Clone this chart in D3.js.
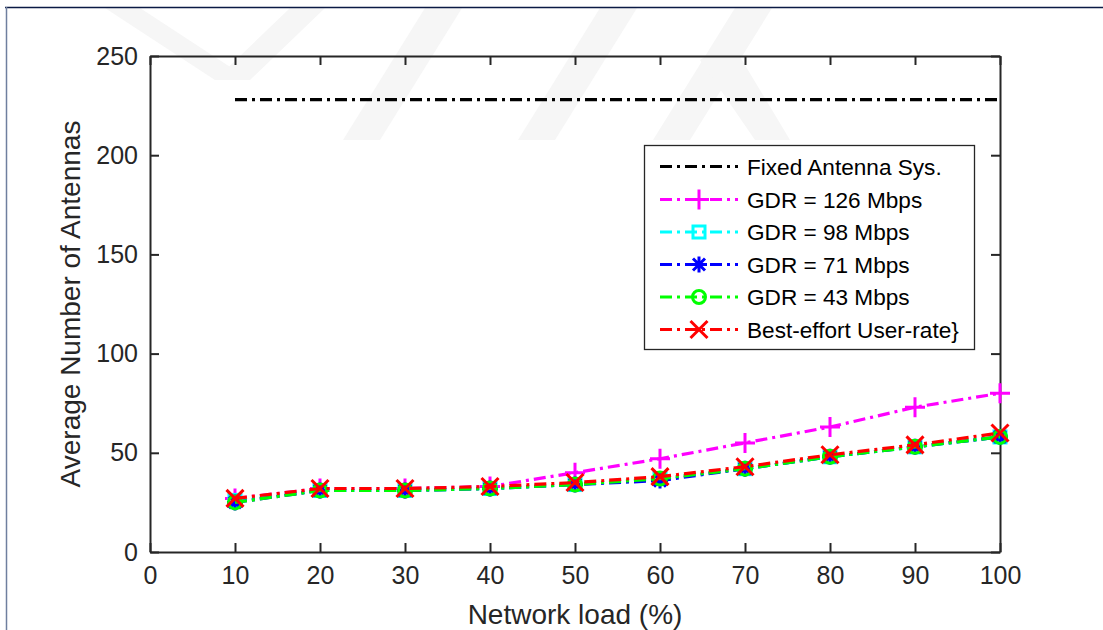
<!DOCTYPE html>
<html><head><meta charset="utf-8">
<script src="https://cdn.jsdelivr.net/npm/d3@7"></script>
<style>body{margin:0;background:#fff}svg{display:block}</style>
</head><body>
<svg id="c" width="1103" height="630"></svg>
<script>
// ---- data ----
const loads = [10, 20, 30, 40, 50, 60, 70, 80, 90, 100];
const fixedSys = [228, 228, 228, 228, 228, 228, 228, 228, 228, 228];
const gdr126 = [27, 32, 32, 33, 40, 47, 55, 63, 73, 80];
const gdr98  = [26, 31, 31, 32, 34, 37, 42, 48, 53, 58];
const gdr71  = [25, 31, 31, 32, 34, 36, 42, 48, 53, 58];
const gdr43  = [25, 31, 31, 32, 34, 37, 42, 48, 53, 58];
const bestEffort = [27, 32, 32, 33, 35, 38, 43, 49, 54, 60];
const xTicks = [0, 10, 20, 30, 40, 50, 60, 70, 80, 90, 100];
const yTicks = [0, 50, 100, 150, 200, 250];
const seriesNames = ["Fixed Antenna Sys.", "GDR = 126 Mbps", "GDR = 98 Mbps", "GDR = 71 Mbps", "GDR = 43 Mbps", "Best-effort User-rate}"];

const series = [
  {name: seriesNames[0], values: fixedSys, color: "#000000", marker: null},
  {name: seriesNames[1], values: gdr126, color: "#ff00ff", marker: "plus"},
  {name: seriesNames[2], values: gdr98, color: "#00ffff", marker: "square"},
  {name: seriesNames[3], values: gdr71, color: "#0000ff", marker: "star"},
  {name: seriesNames[4], values: gdr43, color: "#00ff00", marker: "circle"},
  {name: seriesNames[5], values: bestEffort, color: "#ff0000", marker: "x"}
];

const svg = d3.select("#c");
const FONT = "'Liberation Sans', Arial, sans-serif";
const AX = "#262626";

// ---- faint watermark + page frame ----
const wm = svg.append("g").attr("fill", "#f6f6f6");
const wmPolys = [
  [[105,8],[140,8],[250,80],[215,80]],
  [[290,8],[325,8],[250,80],[215,80]],
  [[425,8],[462,8],[380,140],[343,140]],
  [[600,8],[637,8],[555,140],[518,140]],
  [[735,8],[772,8],[690,140],[653,140]],
  [[700,60],[730,40],[790,140],[755,140]]
];
wmPolys.forEach(p => wm.append("path").attr("d", "M" + p.map(q => q.join(",")).join("L") + "Z"));
svg.append("line").attr("x1", 5).attr("x2", 1103).attr("y1", 7.5).attr("y2", 7.5).attr("stroke", "#0b1a44").attr("stroke-width", 1.5);
svg.append("line").attr("x1", 6.5).attr("x2", 6.5).attr("y1", 7).attr("y2", 630).attr("stroke", "#6f7f9f").attr("stroke-width", 1.5);

// ---- scales ----
const L = 150, R = 1000, T = 56, B = 552;
const x = d3.scaleLinear().domain([0, 100]).range([L, R]);
const y = d3.scaleLinear().domain([0, 250]).range([B, T]);

// ---- axes ----
function styleAxis(g, labels) {
  g.select(".domain").attr("stroke", AX).attr("stroke-width", 2);
  g.selectAll(".tick line").attr("stroke", AX).attr("stroke-width", 2);
  g.selectAll(".tick text").attr("fill", AX).style("font-family", FONT).style("font-size", "25px");
  if (!labels) g.selectAll(".tick text").remove();
}
svg.append("g").attr("transform", `translate(0,${B})`)
  .call(d3.axisBottom(x).tickValues(xTicks).tickSizeInner(-9).tickSizeOuter(0).tickPadding(14).tickFormat(d3.format("d")))
  .call(g => styleAxis(g, true));
svg.append("g").attr("transform", `translate(0,${T})`)
  .call(d3.axisTop(x).tickValues(xTicks).tickSizeInner(-9).tickSizeOuter(0))
  .call(g => styleAxis(g, false));
svg.append("g").attr("transform", `translate(${L},0)`)
  .call(d3.axisLeft(y).tickValues(yTicks).tickSizeInner(-9).tickSizeOuter(0).tickPadding(12).tickFormat(d3.format("d")))
  .call(g => styleAxis(g, true));
svg.append("g").attr("transform", `translate(${R},0)`)
  .call(d3.axisRight(y).tickValues(yTicks).tickSizeInner(-9).tickSizeOuter(0))
  .call(g => styleAxis(g, false));

// axis titles
svg.append("text").attr("x", (L + R) / 2).attr("y", 624).attr("text-anchor", "middle")
  .attr("fill", AX).style("font-family", FONT).style("font-size", "28px").text("Network load (%)");
svg.append("text").attr("transform", `translate(80,${(T + B) / 2}) rotate(-90)`).attr("text-anchor", "middle")
  .attr("fill", AX).style("font-family", FONT).style("font-size", "28px").text("Average Number of Antennas");

// ---- markers ----
function drawMarker(g, type, cx, cy, color) {
  const s = g.append("g").attr("transform", `translate(${cx},${cy})`)
    .attr("stroke", color).attr("stroke-width", 3).attr("fill", "none");
  if (type === "plus") s.append("path").attr("d", "M-10,0H10M0,-10V10");
  else if (type === "x") s.append("path").attr("d", "M-8.5,-8.5L8.5,8.5M-8.5,8.5L8.5,-8.5");
  else if (type === "square") s.append("rect").attr("x", -6).attr("y", -6).attr("width", 12).attr("height", 12);
  else if (type === "circle") s.append("circle").attr("r", 6.5);
  else if (type === "star") s.append("path").attr("d", "M-8,0H8M0,-8V8M-6,-6L6,6M-6,6L6,-6");
}

// ---- lines ----
const line = d3.line().x(d => x(d[0])).y(d => y(d[1]));
series.forEach(s => {
  const pts = loads.map((l, i) => [l, s.values[i]]);
  svg.append("path").datum(pts).attr("d", line).attr("fill", "none")
    .attr("stroke", s.color).attr("stroke-width", 3.2).attr("stroke-dasharray", "12,5,3,5");
  if (s.marker) pts.forEach(p => drawMarker(svg, s.marker, x(p[0]), y(p[1]), s.color));
});

// ---- legend ----
const lg = svg.append("g");
lg.append("rect").attr("x", 644.5).attr("y", 145.5).attr("width", 330).attr("height", 204)
  .attr("fill", "#fff").attr("stroke", AX).attr("stroke-width", 1.3);
const rowY = [166.5, 199.5, 232, 264.5, 297, 329.5];
series.forEach((s, i) => {
  const yy = rowY[i];
  lg.append("line").attr("x1", 660).attr("x2", 738).attr("y1", yy).attr("y2", yy)
    .attr("stroke", s.color).attr("stroke-width", 3).attr("stroke-dasharray", "12,5,3,5");
  if (s.marker) drawMarker(lg, s.marker, 699, yy, s.color);
  lg.append("text").attr("x", 747).attr("y", yy + 8).attr("fill", "#000")
    .style("font-family", FONT).style("font-size", "22.6px").text(s.name);
});
</script>
</body></html>
